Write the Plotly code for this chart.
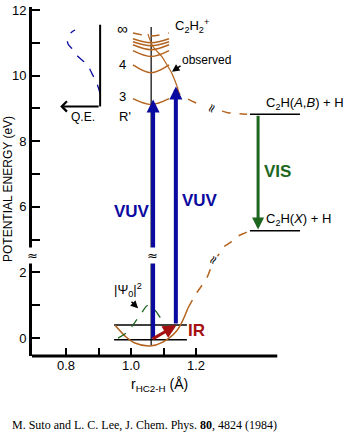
import plotly.graph_objects as go

# ---------------- data (r in Angstrom, E in eV) ----------------
r_e = 1.062                      # equilibrium C-H distance
re_line_E = [-0.21, 11.48]

# ground-state potential (C2H2 X) along C-H stretch
ground_r_solid = [0.951, 0.982, 1.012, 1.058, 1.098, 1.142, 1.175]
ground_E_solid = [0.39, 0.06, -0.15, -0.24, -0.12, 0.24, 0.91]
ground_r_dash = [1.175, 1.203, 1.234, 1.252, 1.268, 1.283, 1.305, 1.326, 1.345, 1.366]
ground_E_dash = [0.91, 1.39, 1.85, 2.30, 4.52, 4.76, 4.91, 5.09, 5.18, 5.27]

# observed repulsive (dissociative) upper curve
rep_r_solid = [1.052, 1.068, 1.095, 1.114, 1.126, 1.142]
rep_E_solid = [11.27, 10.88, 10.58, 10.27, 10.06, 9.67]
rep_r_dash = [1.142, 1.151, 1.172, 1.197, 1.228, 1.274, 1.298, 1.326, 1.357]
rep_E_dash = [9.67, 9.42, 9.30, 9.18, 9.09, 8.94, 8.87, 8.84, 8.82]

# Rydberg R' levels (n = 3, 4, 5, 6, 7, 8, inf): bottom and edge energies
ryd_n = ["3", "4", "5", "6", "7", "8", "inf"]
ryd_bottom_E = [9.12, 10.09, 10.58, 10.79, 10.91, 11.00, 11.21]
ryd_edge_E = [9.30, 10.33, 10.76, 10.94, 11.03, 11.12, 11.30]
ryd_r = [1.006, 1.062, 1.117]

# |Psi0|^2 of the ground vibrational state
psi_r = [0.960, 0.988, 1.012, 1.034, 1.052, 1.074, 1.089, 1.105, 1.120, 1.135]
psi_E = [0.00, 0.18, 0.48, 0.79, 1.00, 0.85, 0.64, 0.45, 0.24, 0.03]

# vibrational levels (v=0 and IR-excited)
vib_E = [-0.05, 0.40]
vib_r = [0.948, 1.172]

# asymptotes
asym_names = ["C<sub>2</sub>H(<i>A</i>,<i>B</i>) + H", "C<sub>2</sub>H(<i>X</i>) + H"]
asym_E = [8.82, 5.27]
asym_r = [1.366, 1.520]

# transitions
vuv_r = [1.068, 1.138]
vuv_E_from = [-0.05, 0.40]
vuv_E_to = [9.27, 9.67]
ir_r = [1.062, 1.140]
ir_E = [-0.05, 0.39]
vis_r = 1.391
vis_E = [8.82, 5.31]

# quantum-efficiency inset
qe_r = [0.905, 0.895, 0.880, 0.865, 0.837, 0.822, 0.806, 0.806, 0.818, 0.828]
qe_E = [9.45, 9.76, 10.06, 10.33, 10.58, 10.79, 10.97, 11.18, 11.33, 11.39]
qe_axis_r = [0.905, 0.782]
qe_axis_E = [9.06, 11.55]

# pointer arrows (tail -> tip)
obs_ptr_r = [1.157, 1.126]
obs_ptr_E = [10.33, 10.12]
psi_ptr_r = [0.997, 1.022]
psi_ptr_E = [1.15, 0.91]

# axis ticks
x_major = [0.8, 1.0, 1.2]
x_major_text = ["0.8", "1.0", "1.2"]
x_minor = [0.9, 1.1]
y_major_E = [0, 2, 6, 8, 10, 12]
y_minor_E = [1, 5, 7, 9, 11]


# broken energy axis: 2.5 .. 4.5 eV removed
def brk(E):
    if isinstance(E, (list, tuple)):
        return [brk(e) for e in E]
    return E if E <= 3.5 else E - 2.0


BROWN = "#b4641e"
BLUE = "#0a0aa0"
GREEN = "#1d661d"
RED = "#a51010"
FONT = "Liberation Sans, Arial, sans-serif"

fig = go.Figure()


def line(x, y, color="black", width=1.5, dash="solid", shape="linear"):
    fig.add_trace(go.Scatter(x=x, y=brk(list(y)), mode="lines",
                             line=dict(color=color, width=width, dash=dash, shape=shape),
                             hoverinfo="skip", showlegend=False))


ann = []


def arrow(x, y, color, width, size, head=2):
    ann.append(dict(x=x[1], y=brk(y[1]), ax=x[0], ay=brk(y[0]), xref="x", yref="y",
                    axref="x", ayref="y", text="", showarrow=True,
                    arrowhead=head, arrowsize=size, arrowwidth=width,
                    arrowcolor=color, standoff=0))


# equilibrium line
line([r_e, r_e], re_line_E, width=1.2)
# vibrational level lines
for e in vib_E:
    line(vib_r, [e, e], width=1.5)
# asymptote lines
for e in asym_E:
    line(asym_r, [e, e], width=1.5)

# Rydberg parabolas
for n, eb, ee in zip(ryd_n, ryd_bottom_E, ryd_edge_E):
    line(ryd_r, [ee, eb, ee], color=BROWN, width=1.5,
         dash="dash" if n == "inf" else "solid", shape="spline")

# repulsive curve
line(rep_r_solid, rep_E_solid, color=BROWN, width=1.2, shape="spline")
line(rep_r_dash, rep_E_dash, color=BROWN, width=1.5, dash="dash", shape="spline")

# ground potential
line(ground_r_solid, ground_E_solid, color=BROWN, width=1.5, shape="spline")
line(ground_r_dash, ground_E_dash, color=BROWN, width=1.5, dash="dash", shape="spline")

# |psi0|^2
line(psi_r, psi_E, color=GREEN, width=1.3, dash="dash", shape="spline")

# QE inset
line(qe_r, qe_E, color=BLUE, width=1.3, dash="dash", shape="spline")
line([qe_axis_r[0], qe_axis_r[0]], qe_axis_E, width=2)
arrow(qe_axis_r, [qe_axis_E[0], qe_axis_E[0]], "black", 2, 1.0, head=4)

# transitions
for r, e0, e1 in zip(vuv_r, vuv_E_from, vuv_E_to):
    arrow([r, r], [e0, e1], BLUE, 4, 0.65)
arrow([vis_r, vis_r], vis_E, GREEN, 3, 0.8)
arrow(ir_r, ir_E, RED, 3, 0.9)
arrow(obs_ptr_r, obs_ptr_E, "black", 1.5, 1.0)
arrow(psi_ptr_r, psi_ptr_E, "black", 1.5, 1.0)


def text(x, y, s, size=13, color="black", bold=False, xanchor="center",
         xref="x", yref="y", angle=0, family=FONT, bg=None):
    if bold:
        s = "<b>" + s + "</b>"
    d = dict(x=x, y=y, text=s, xref=xref, yref=yref, showarrow=False,
             xanchor=xanchor, yanchor="middle", textangle=angle,
             font=dict(size=size, color=color, family=family))
    if bg:
        d.update(bgcolor=bg, borderpad=0)
    ann.append(d)


text(0.975, 9.42, "∞", size=15)
text(0.975, 8.33, "4")
text(0.975, 7.36, "3")
text(0.982, 6.76, "R'")
text(1.129, 9.50, "C<sub>2</sub>H<sub>2</sub><sup>+</sup>", xanchor="left")
text(1.151, 8.48, "observed", size=12, xanchor="left")
text(0.852, 6.73, "Q.E.", size=12)
text(0.991, 1.47, "|Ψ<sub>0</sub>|<sup>2</sup>", size=13)
text(1.003, 3.85, "VUV", size=17, color=BLUE, bold=True)
text(1.212, 4.18, "VUV", size=17, color=BLUE, bold=True)
text(1.452, 5.09, "VIS", size=17, color=GREEN, bold=True)
text(1.200, 0.24, "IR", size=17, color=RED, bold=True)
text(1.410, 7.16, asym_names[0], xanchor="left")
text(1.410, 3.60, asym_names[1], xanchor="left")

# break symbols
BRK = "DejaVu Sans, sans-serif"
text(0.6954, 2.52, "≈", size=13, family=BRK, bg="white")
text(1.065, 2.52, "≈", size=13, family=BRK, bg="white")
text(1.249, -0.58, "≈", size=12, angle=-65, family=BRK, bg="white")
text(1.249, 7.00, "≈", size=12, angle=-65, family=BRK, bg="white")
text(1.252, 2.38, "≈", size=12, angle=-60, family=BRK, bg="white")

# axis titles and citation
text(-0.075, 0.479, "POTENTIAL ENERGY (eV)", size=12, xref="paper", yref="paper", angle=-90)
text(0.4025, -0.083, "r<sub>HC2-H</sub> (Å)", size=14, xref="paper", yref="paper")
text(-0.069, -0.199, "M. Suto and L. C. Lee, J. Chem. Phys. <b>80</b>, 4824 (1984)",
     size=12, xref="paper", yref="paper", xanchor="left",
     family="Liberation Serif, Times New Roman, serif")

fig.update_layout(
    width=353, height=438,
    margin=dict(l=32, r=3, t=5, b=82),
    paper_bgcolor="white", plot_bgcolor="white",
    font=dict(family=FONT, size=13, color="black"),
    showlegend=False,
    annotations=ann,
    shapes=[dict(type="line", xref="x", yref="paper", x0=0.690, x1=1.45, y0=0, y1=0,
                 line=dict(color="black", width=3), layer="below")],
    xaxis=dict(range=[0.6954, 1.6738], showline=False, showgrid=False, zeroline=False,
               ticks="inside", ticklen=8, tickwidth=2, tickcolor="black",
               tickvals=x_major, ticktext=x_major_text, tickfont=dict(size=13),
               minor=dict(tickvals=x_minor, ticks="inside", ticklen=8, tickwidth=2,
                          tickcolor="black", showgrid=False)),
    yaxis=dict(range=[-0.545, 10.09], showline=True, linewidth=3, linecolor="black",
               showgrid=False, zeroline=False, ticks="inside", ticklen=8, tickwidth=2,
               tickcolor="black", tickvals=brk(y_major_E),
               ticktext=[str(v) for v in y_major_E], tickfont=dict(size=13),
               minor=dict(tickvals=brk(y_minor_E), ticks="inside", ticklen=8, tickwidth=2,
                          tickcolor="black", showgrid=False)),
)

fig.write_html("out.html")
